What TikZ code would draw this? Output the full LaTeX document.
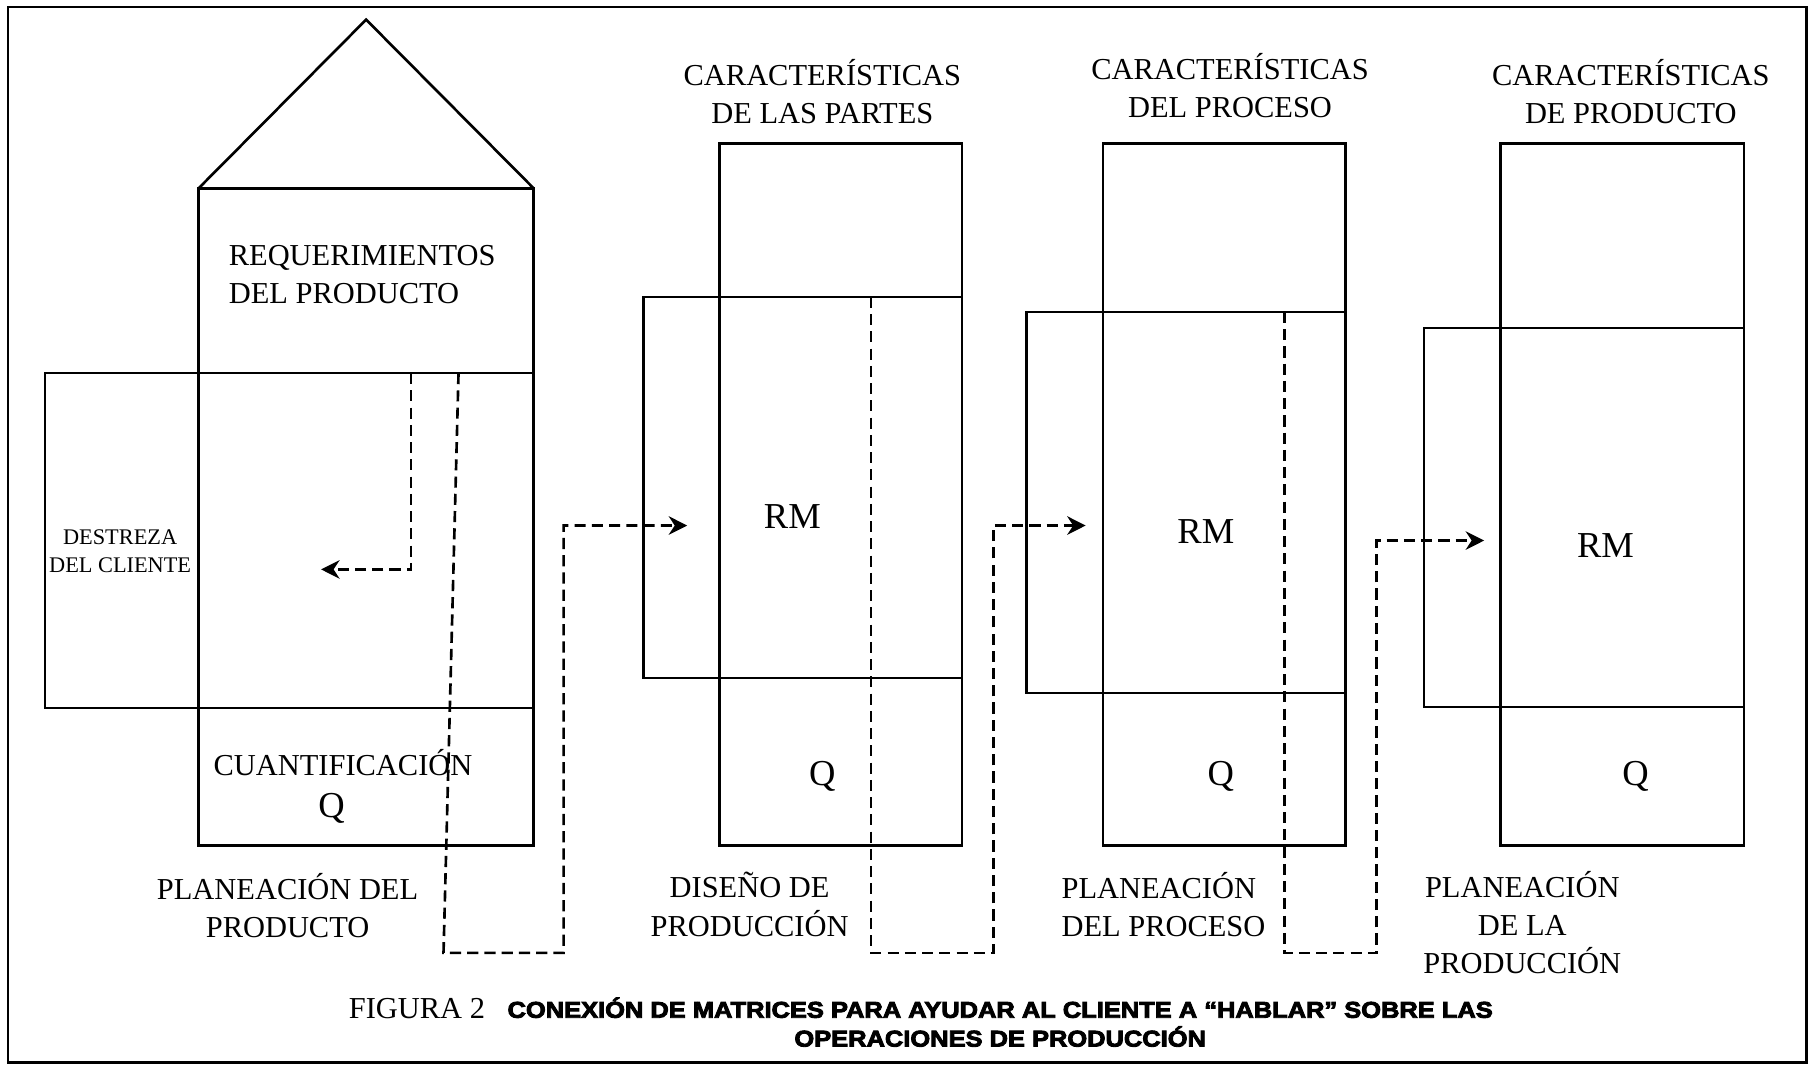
\documentclass[tikz,border=0pt]{standalone}
\usepackage{fontspec}
\setmainfont{Liberation Serif}
\newfontfamily\capfont[FakeStretch=1.12,FakeBold=4]{Liberation Sans}
\usetikzlibrary{arrows.meta}

\begin{document}
\begin{tikzpicture}[x=0.02cm, y=-0.02cm, line width=1.3pt,
        txt/.style={font=\fontsize{15}{18.8}\selectfont, inner sep=0pt, align=center},
        small/.style={font=\fontsize{11}{13.6}\selectfont, inner sep=0pt, align=center},
        big/.style={font=\fontsize{18}{20}\selectfont, inner sep=0pt},
        link/.style={dash pattern=on 5.5pt off 3pt},
        linkarrow/.style={link, -{Stealth[length=3.2mm,width=3.2mm]}}]

        % Page frame
        \useasboundingbox (0,0) rectangle (1568,923);
        \draw (7,6) rectangle (1564,920);

        % House of quality: product planning
        \draw (172,163) -- (317,17) -- (462,163);
        \draw (172,163) rectangle (462,732);
        \draw (39,323) rectangle (462,613);
        \node[txt, anchor=west, align=left] (req) at (197,238) {REQUERIMIENTOS\\DEL PRODUCTO};
        \node[small] (destreza) at (104,477) {DESTREZA\\DEL CLIENTE};
        \node[txt] (cuant) at (297,660) {CUANTIFICACIÓN};
        \node[big] (q1) at (287,700) {Q};
        \node[txt] (plan1) at (249,784) {PLANEACIÓN DEL\\PRODUCTO};

        % Second matrix: part design
        \draw (623,124) rectangle (833,732);
        \draw (557,257) rectangle (833,587);
        \node[txt] (head2) at (712,79) {CARACTERÍSTICAS\\DE LAS PARTES};
        \node[big] (rm2) at (686,447) {RM};
        \node[big] (q2) at (712,672) {Q};
        \node[txt] (plan2) at (649,783) {DISEÑO DE\\PRODUCCIÓN};

        % Third matrix: process planning
        \draw (955,124) rectangle (1165,732);
        \draw (889,270) rectangle (1165,600);
        \node[txt] (head3) at (1065,74) {CARACTERÍSTICAS\\DEL PROCESO};
        \node[big] (rm3) at (1044,460) {RM};
        \node[big] (q3) at (1057,672) {Q};
        \node[txt, anchor=west, align=left] (plan3) at (918,783) {PLANEACIÓN\\DEL PROCESO};

        % Fourth matrix: production planning
        \draw (1299,124) rectangle (1510,732);
        \draw (1233,284) rectangle (1510,612);
        \node[txt] (head4) at (1412,79) {CARACTERÍSTICAS\\DE PRODUCTO};
        \node[big] (rm4) at (1390,472) {RM};
        \node[big] (q4) at (1416,672) {Q};
        \node[txt] (plan4) at (1318,799) {PLANEACIÓN\\DE LA\\PRODUCCIÓN};

        % Dashed links between matrices
        \coordinate (s1) at (356,323);
        \coordinate (e1) at (278,493);
        \draw[linkarrow] (s1) |- (e1);

        \coordinate (s2) at (397,323);
        \coordinate (b2) at (384,825);
        \coordinate (u2) at (488,455);
        \coordinate (e2) at (595,455);
        \draw[linkarrow] (s2) -- (b2) -| (u2) -- (e2);

        \coordinate (s3) at (754,257);
        \coordinate (u3) at (860,455);
        \coordinate (e3) at (940,455);
        \draw[linkarrow] (s3) |- (860,825) -- (u3) -- (e3);

        \coordinate (s4) at (1112,270);
        \coordinate (u4) at (1192,468);
        \coordinate (e4) at (1285,468);
        \draw[linkarrow] (s4) |- (1192,825) -- (u4) -- (e4);

        % Caption
        \node[txt] (fig) at (361,873) {FIGURA 2};
        \node[font=\capfont\bfseries\fontsize{11.2}{14.2}\selectfont, inner sep=0pt, align=center] (cap) at (866,885)
            {CONEXIÓN DE MATRICES PARA AYUDAR AL CLIENTE A “HABLAR” SOBRE LAS\\OPERACIONES DE PRODUCCIÓN};

\end{tikzpicture}
\end{document}
